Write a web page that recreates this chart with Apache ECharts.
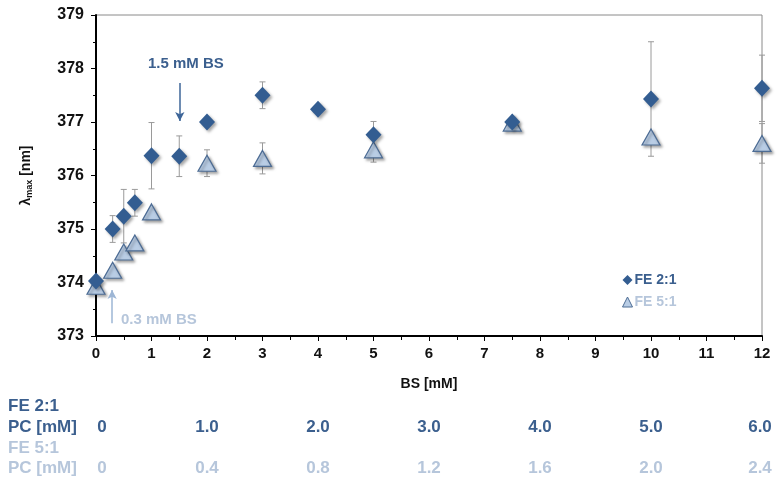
<!DOCTYPE html>
<html>
<head>
<meta charset="utf-8">
<script src="https://cdn.jsdelivr.net/npm/echarts@6/dist/echarts.min.js"></script>
<style>html,body{margin:0;padding:0;background:#fff;}#c{width:778px;height:486px;}</style>
</head>
<body>
<div id="c"></div>
<script>
// ---- data ----
var fe21X    = [0, 0.3, 0.5, 0.7, 1, 1.5, 2, 3, 4, 5, 7.5, 10, 12];
var fe21Y    = [374.03, 375.0, 375.24, 375.49, 376.37, 376.36, 377.0, 377.5, 377.24, 376.76, 377.0, 377.43, 377.63];
var fe21Err  = [0, 0.25, 0.5, 0.25, 0.62, 0.38, 0, 0.25, 0, 0.25, 0, 1.07, 0.62];
var fe51X    = [0, 0.3, 0.5, 0.7, 1, 2, 3, 5, 7.5, 10, 12];
var fe51Y    = [373.93, 374.23, 374.57, 374.74, 375.32, 376.23, 376.32, 376.48, 376.98, 376.72, 376.6];
var fe51Err  = [0, 0, 0, 0, 0, 0.25, 0.29, 0.23, 0, 0, 0.37];
var pcColsBS = [0, 2, 4, 6, 8, 10, 12];
var pc21     = ['0', '1.0', '2.0', '3.0', '4.0', '5.0', '6.0'];
var pc51     = ['0', '0.4', '0.8', '1.2', '1.6', '2.0', '2.4'];
var seriesNames = ['FE 2:1', 'FE 5:1'];

var DARK = '#335d91', DARKTXT = '#3b5f8e', LIGHT = '#b9cde5', LIGHTTXT = '#b6c6db', TRIBORDER = '#4d6c94';
var FONT = '"Liberation Sans", Arial, sans-serif';

function pts(xs, ys) { return xs.map(function (x, i) { return [x, ys[i]]; }); }
function errData(xs, ys, es) {
  var out = [];
  xs.forEach(function (x, i) { if (es[i] > 0) out.push([x, ys[i] - es[i], ys[i] + es[i]]); });
  return out;
}
function errRender(params, api) {
  var lo = api.coord([api.value(0), api.value(1)]);
  var hi = api.coord([api.value(0), api.value(2)]);
  var c = 3;
  var st = { stroke: '#9a9a9a', lineWidth: 1 };
  return { type: 'group', children: [
    { type: 'line', shape: { x1: lo[0], y1: lo[1], x2: hi[0], y2: hi[1] }, style: st },
    { type: 'line', shape: { x1: lo[0] - c, y1: lo[1], x2: lo[0] + c, y2: lo[1] }, style: st },
    { type: 'line', shape: { x1: hi[0] - c, y1: hi[1], x2: hi[0] + c, y2: hi[1] }, style: st }
  ]};
}

var chart = echarts.init(document.getElementById('c'));
var shadow = { shadowBlur: 3, shadowOffsetX: 2, shadowOffsetY: 2, shadowColor: 'rgba(0,0,0,0.35)' };

chart.setOption({
  animation: false,
  grid: { left: 96, right: 16, top: 15, bottom: 150, show: true, borderColor: '#8a8a8a', borderWidth: 1 },
  xAxis: {
    type: 'value', min: 0, max: 12, interval: 1,
    name: 'BS [mM]', nameLocation: 'middle', nameGap: 41,
    nameTextStyle: { fontFamily: FONT, fontWeight: 'bold', fontSize: 14, color: '#111' },
    axisLine: { onZero: false, lineStyle: { color: '#000', width: 2 } },
    axisTick: { show: true, length: 5, lineStyle: { color: '#000' } },
    minorTick: { show: true, splitNumber: 2, length: 4, lineStyle: { color: '#000' } },
    splitLine: { show: false },
    axisLabel: { fontFamily: FONT, fontWeight: 'bold', fontSize: 15, color: '#111', margin: 10 }
  },
  yAxis: {
    type: 'value', min: 373, max: 379, interval: 1,
    name: '{a|λ}{s|max}{a| [nm]}', nameLocation: 'middle', nameGap: 62, nameRotate: 90,
    nameTextStyle: { rich: {
      a: { fontFamily: FONT, fontWeight: 'bold', fontSize: 14, color: '#111' },
      s: { fontFamily: FONT, fontWeight: 'bold', fontSize: 9, color: '#111', verticalAlign: 'bottom', padding: [6, 0, 0, 0] }
    } },
    axisLine: { show: true, lineStyle: { color: '#000', width: 2 } },
    axisTick: { show: true, length: 5, lineStyle: { color: '#000' } },
    minorTick: { show: true, splitNumber: 2, length: 3, lineStyle: { color: '#000' } },
    splitLine: { show: false },
    axisLabel: { fontFamily: FONT, fontWeight: 'bold', fontSize: 16, color: '#111', margin: 12 }
  },
  legend: {
    orient: 'vertical', left: 617, top: 268, itemWidth: 10, itemHeight: 10, itemGap: 8,
    textStyle: { fontFamily: FONT, fontWeight: 'bold', fontSize: 14, padding: [0, 0, 0, -3] },
    data: [
      { name: seriesNames[0], icon: 'diamond', itemStyle: { color: DARK, borderWidth: 0, shadowBlur: 0, shadowOffsetX: 0, shadowOffsetY: 0 }, textStyle: { color: DARKTXT } },
      { name: seriesNames[1], icon: 'triangle', itemStyle: { color: LIGHT, borderColor: TRIBORDER, borderWidth: 1, shadowBlur: 0, shadowOffsetX: 0, shadowOffsetY: 0 }, textStyle: { color: LIGHTTXT } }
    ]
  },
  series: [
    { type: 'custom', name: 'err21', renderItem: errRender, data: errData(fe21X, fe21Y, fe21Err), z: 1, silent: true },
    { type: 'custom', name: 'err51', renderItem: errRender, data: errData(fe51X, fe51Y, fe51Err), z: 1, silent: true },
    {
      type: 'scatter', name: seriesNames[1], data: pts(fe51X, fe51Y), symbol: 'triangle', symbolSize: [18, 16], z: 3,
      itemStyle: Object.assign({ color: LIGHT, borderColor: TRIBORDER, borderWidth: 1.2, opacity: 1 }, shadow),
      markLine: {
        silent: true, symbol: ['none', 'arrow'], symbolSize: [7, 9], label: { show: false },
        lineStyle: { color: '#9db6d5', width: 1.5, type: 'solid' },
        data: [[{ coord: [0.29, 373.24] }, { coord: [0.29, 373.86] }]]
      }
    },
    {
      type: 'scatter', name: seriesNames[0], data: pts(fe21X, fe21Y), symbol: 'diamond', symbolSize: [16, 17], z: 4,
      itemStyle: Object.assign({ color: DARK, opacity: 1 }, shadow),
      markLine: {
        silent: true, symbol: ['none', 'arrow'], symbolSize: [7, 9], label: { show: false },
        lineStyle: { color: '#3e6699', width: 1.5, type: 'solid' },
        data: [[{ coord: [1.51, 377.73] }, { coord: [1.51, 377.02] }]]
      }
    }
  ]
});

// annotations and PC table, positioned through the chart's own scale
function px(x, y) { return chart.convertToPixel({ gridIndex: 0 }, [x, y]); }
var g = [];
var p1 = px(1.62, 378.08);
g.push({ type: 'text', x: p1[0], y: p1[1], style: { text: '1.5 mM BS', fill: DARKTXT, font: 'bold 15px ' + FONT, textAlign: 'center', textVerticalAlign: 'middle' } });
var p2 = px(0.45, 373.3);
g.push({ type: 'text', x: p2[0], y: p2[1], style: { text: '0.3 mM BS', fill: LIGHTTXT, font: 'bold 15px ' + FONT, textAlign: 'left', textVerticalAlign: 'middle' } });

var rows = [406, 427, 448, 468];
var TF = 'bold 17px ' + FONT;
g.push({ type: 'text', x: 8, y: rows[0], style: { text: 'FE 2:1', fill: DARKTXT, font: TF, textVerticalAlign: 'middle' } });
g.push({ type: 'text', x: 8, y: rows[1], style: { text: 'PC [mM]', fill: DARKTXT, font: TF, textVerticalAlign: 'middle' } });
g.push({ type: 'text', x: 8, y: rows[2], style: { text: 'FE 5:1', fill: LIGHTTXT, font: TF, textVerticalAlign: 'middle' } });
g.push({ type: 'text', x: 8, y: rows[3], style: { text: 'PC [mM]', fill: LIGHTTXT, font: TF, textVerticalAlign: 'middle' } });
pcColsBS.forEach(function (bs, i) {
  var cx = px(bs, 373)[0] + (i === 0 ? 6 : 0) - (i === pcColsBS.length - 1 ? 2 : 0);
  g.push({ type: 'text', x: cx, y: rows[1], style: { text: pc21[i], fill: DARKTXT, font: TF, textAlign: 'center', textVerticalAlign: 'middle' } });
  g.push({ type: 'text', x: cx, y: rows[3], style: { text: pc51[i], fill: LIGHTTXT, font: TF, textAlign: 'center', textVerticalAlign: 'middle' } });
});
chart.setOption({ graphic: g });
</script>
</body>
</html>
